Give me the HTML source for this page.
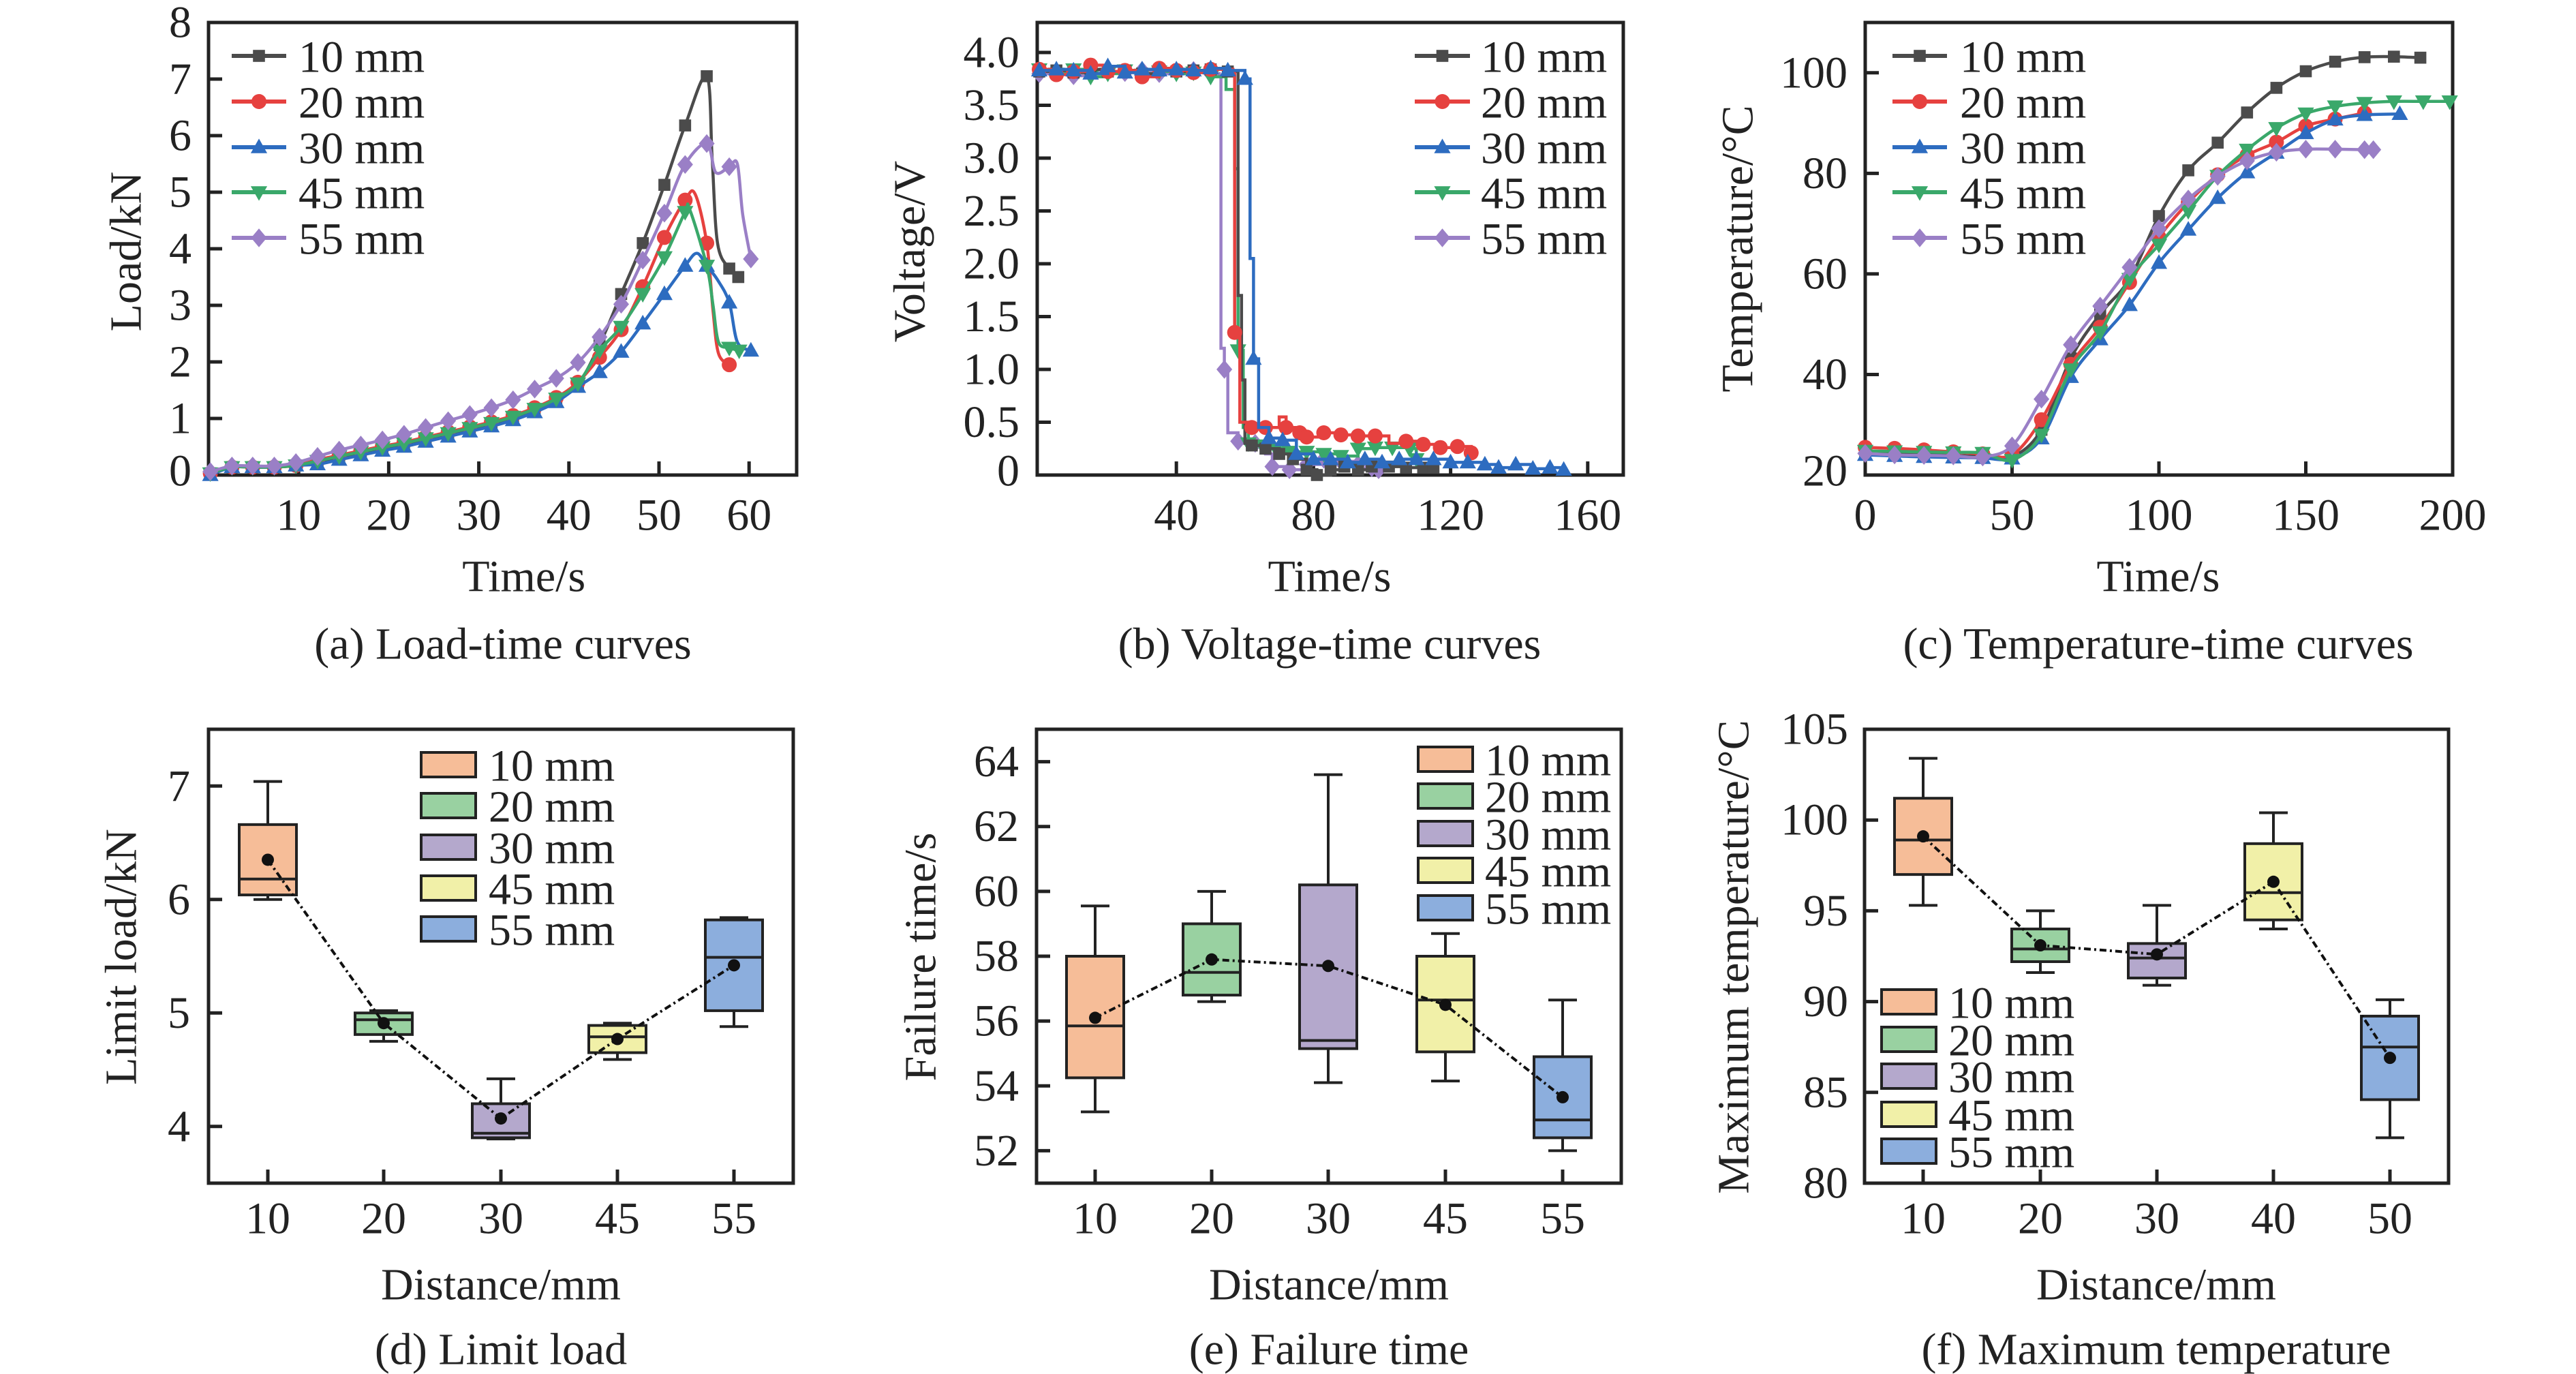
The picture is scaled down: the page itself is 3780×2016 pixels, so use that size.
<!DOCTYPE html>
<html><head><meta charset="utf-8"><style>
html,body{margin:0;padding:0;background:#fff;}
svg{display:block;}
text{font-family:"Liberation Serif","Times New Roman",serif;fill:#222;}
</style></head><body>
<svg id="s" xmlns="http://www.w3.org/2000/svg" width="3780" height="2016" viewBox="0 0 3780 2016"></svg>
<script>
const S=document.getElementById('s');let out='';
const FS=66;
function txt(x,y,t,anchor,size,rot){size=size||FS;anchor=anchor||'middle';
 if(rot) out+=`<text x="${x}" y="${y}" font-size="${size}" text-anchor="middle" dominant-baseline="central" transform="rotate(-90 ${x} ${y})">${t}</text>`;
 else out+=`<text x="${x}" y="${y}" font-size="${size}" text-anchor="${anchor}" dominant-baseline="central">${t}</text>`;}
function frame(l,t,r,b){out+=`<rect x="${l}" y="${t}" width="${r-l}" height="${b-t}" fill="none" stroke="#222" stroke-width="5"/>`;}
function smooth(p){let d=`M${p[0][0]},${p[0][1]}`;for(let i=0;i<p.length-1;i++){const p0=p[Math.max(0,i-1)],p1=p[i],p2=p[i+1],p3=p[Math.min(p.length-1,i+2)];
 const c1x=p1[0]+(p2[0]-p0[0])/6,c1y=p1[1]+(p2[1]-p0[1])/6,c2x=p2[0]-(p3[0]-p1[0])/6,c2y=p2[1]-(p3[1]-p1[1])/6;
 d+=`C${c1x.toFixed(1)},${c1y.toFixed(1)} ${c2x.toFixed(1)},${c2y.toFixed(1)} ${p2[0].toFixed(1)},${p2[1].toFixed(1)}`;}return d;}
function marker(type,x,y,c,s){s=s||12;
 if(type==0) out+=`<rect x="${x-s*0.8}" y="${y-s*0.8}" width="${s*1.6}" height="${s*1.6}" fill="${c}"/>`;
 else if(type==1) out+=`<circle cx="${x}" cy="${y}" r="${s}" fill="${c}"/>`;
 else if(type==2) out+=`<polygon points="${x},${y-s*1.15} ${x+s*1.1},${y+s*0.8} ${x-s*1.1},${y+s*0.8}" fill="${c}"/>`;
 else if(type==3) out+=`<polygon points="${x},${y+s*1.15} ${x+s*1.1},${y-s*0.8} ${x-s*1.1},${y-s*0.8}" fill="${c}"/>`;
 else out+=`<polygon points="${x},${y-s*1.25} ${x+s*1.05},${y} ${x},${y+s*1.25} ${x-s*1.05},${y}" fill="${c}"/>`;}
const COL=['#4b4b4b','#e6413f','#2d6cc0','#3aa86a','#9a7fc6'];
const LAB=['10 mm','20 mm','30 mm','45 mm','55 mm'];
function lineLegend(lx1,lx2,tx,ys){for(let i=0;i<5;i++){out+=`<line x1="${lx1}" y1="${ys[i]}" x2="${lx2}" y2="${ys[i]}" stroke="${COL[i]}" stroke-width="6"/>`;marker(i,(lx1+lx2)/2,ys[i],COL[i],11);txt(tx,ys[i]+2,LAB[i],'start');}}
const LY=[82,149,216,282,349];

// ===== Panel a =====
{const X=t=>306+13.22*t,Y=v=>697-83*v;
frame(306,33,1169,697);
for(let t=10;t<=60;t+=10){out+=`<line x1="${X(t)}" y1="697" x2="${X(t)}" y2="677" stroke="#222" stroke-width="5"/>`;txt(X(t),756,t);}
for(let v=0;v<=8;v++){if(v>0&&v<8)out+=`<line x1="306" y1="${Y(v)}" x2="326" y2="${Y(v)}" stroke="#222" stroke-width="5"/>`;txt(281,Y(v)+ (v==0?-6:0),v,'end');}
txt(185,369,'Load/kN','middle',FS,true);txt(X(35),846,'Time/s');txt(738,945,'(a) Load-time curves');
const T=[0.2,2.6,4.9,7.3,9.7,12.1,14.5,16.9,19.3,21.7,24.1,26.6,29.0,31.4,33.8,36.2,38.6,41.0,43.4,45.8,48.2,50.6,52.9,55.3,57.8,60.2];
const base=[0.03,0.14,0.14,0.14,0.17,0.25,0.33,0.41,0.49,0.56,0.65,0.74,0.83,0.92,1.03,1.17,1.35,1.62];
function mk(off,tail){const p=[];for(let i=0;i<18;i++)p.push([T[i],base[i]+off*(i>4?1:0),1]);return p.concat(tail);}
const S5=[
 mk(-0.02,[[43.4,2.3,1],[45.8,3.2,1],[48.2,4.1,1],[50.6,5.13,1],[52.9,6.18,1],[55.3,7.05,1],[55.9,5.6,0],[56.5,4.1,0],[57.8,3.65,1],[58.8,3.5,1]]),
 mk(0.02,[[43.4,2.08,1],[45.8,2.57,1],[48.2,3.33,1],[50.6,4.2,1],[52.9,4.86,1],[54.0,4.97,0],[55.3,4.1,1],[56.0,2.9,0],[56.6,2.15,0],[57.8,1.95,1]]),
 mk(-0.06,[[43.4,1.82,1],[45.8,2.18,1],[48.2,2.68,1],[50.6,3.2,1],[52.9,3.7,1],[54.2,3.92,0],[55.3,3.7,1],[56.5,3.45,0],[57.8,3.05,1],[58.7,2.35,0],[60.2,2.2,1]]),
 mk(0.0,[[43.4,2.2,1],[45.8,2.62,1],[48.2,3.2,1],[50.6,3.85,1],[52.9,4.65,1],[53.4,4.7,0],[55.3,3.7,1],[56.0,3.0,0],[56.6,2.35,0],[57.8,2.25,1],[58.9,2.2,1]]),
 [[0.2,0.06,1],[2.6,0.16,1],[4.9,0.16,1],[7.3,0.16,1],[9.7,0.22,1],[12.1,0.33,1],[14.5,0.44,1],[16.9,0.53,1],[19.3,0.62,1],[21.7,0.72,1],[24.1,0.84,1],[26.6,0.96,1],[29.0,1.07,1],[31.4,1.19,1],[33.8,1.33,1],[36.2,1.52,1],[38.6,1.71,1],[41.0,1.99,1],[43.4,2.44,1],[45.8,3.02,1],[48.2,3.8,1],[50.6,4.63,1],[52.9,5.49,1],[55.3,5.86,1],[56.3,5.35,0],[57.8,5.45,1],[58.7,5.5,0],[59.3,4.6,0],[60.2,3.82,1]]
];
S5[2][0][1]=0.0;
for(let k=0;k<5;k++){const p=S5[k].map(q=>[X(q[0]),Y(q[1])]);out+=`<path d="${smooth(p)}" fill="none" stroke="${COL[k]}" stroke-width="4.5"/>`;
 S5[k].forEach(q=>{if(q[2])marker(k,X(q[0]),Y(q[1]),COL[k],11);});}
lineLegend(340,420,438,LY);}

// ===== Panel b =====
{const X=t=>1525+5.03*t,Y=v=>697-155*v;
frame(1522,33,2382,697);
[40,80,120,160].forEach(t=>{out+=`<line x1="${X(t)}" y1="697" x2="${X(t)}" y2="677" stroke="#222" stroke-width="5"/>`;txt(X(t),756,t);});
for(let v=0;v<=4;v+=0.5){if(v>0)out+=`<line x1="1522" y1="${Y(v)}" x2="1542" y2="${Y(v)}" stroke="#222" stroke-width="5"/>`;txt(1496,Y(v)+(v==0?-6:0),v==0?'0':v.toFixed(1),'end');}
txt(1335,369,'Voltage/V','middle',FS,true);txt(1951,846,'Time/s');txt(1951,945,'(b) Voltage-time curves');
function flat(jit,end){const p=[];for(let t=0,i=0;t<end;t+=5,i++)p.push([t,3.82+jit[i%jit.length],1]);return p;}
const B=[
 flat([0,0.01,-0.01,0.02,0,0.01,-0.02,0.01,0,0.01,0.02],56).concat([[57.5,3.82,0],[58,1.7,0],[59,0.9,0],[60,0.3,0],[62,0.28,1],[66,0.25,1],[70,0.2,1],[74,0.15,1],[78,0.05,1],[81,0.0,1],[85,0.05,1],[89,0.08,1],[93,0.05,1],[97,0.08,1],[102,0.08,1],[107,0.07,1],[112,0.07,1],[115,0.07,1]]),
 flat([0.02,-0.03,0,0.06,0,0.01,-0.05,0.03,0.01,-0.01,0.02],55).concat([[56.5,3.8,0],[57,1.35,1],[58.5,0.5,0],[62,0.45,1],[66,0.45,1],[70,0.55,0],[72,0.45,1],[76,0.4,1],[78,0.36,1],[83,0.4,1],[88,0.38,1],[93,0.37,1],[98,0.37,1],[102,0.3,0],[107,0.32,1],[112,0.29,1],[117,0.26,1],[122,0.27,1],[126,0.21,1]]),
 flat([0.01,0.02,0.01,-0.02,0.05,-0.01,0.02,0.01,0.02,0.01,0.03],58).concat([[60,3.75,1],[61.5,2.05,0],[62.5,1.1,1],[64,0.45,0],[67,0.35,1],[71,0.33,1],[75,0.2,1],[80,0.15,1],[85,0.15,1],[90,0.12,1],[95,0.15,1],[100,0.12,1],[105,0.15,1],[110,0.15,1],[115,0.15,1],[120,0.12,1],[125,0.12,1],[130,0.1,1],[134,0.07,1],[139,0.1,1],[144,0.06,1],[149,0.07,1],[153,0.05,1]]),
 flat([0.02,-0.02,0.02,-0.05,-0.02,0.01,-0.03,0.0,-0.02,-0.01,-0.05],53).concat([[54.5,3.65,0],[56,3.65,0],[57,2.9,0],[58,1.18,1],[59.5,0.45,0],[61,0.3,1],[65,0.28,1],[69,0.25,1],[73,0.22,1],[78,0.22,1],[83,0.2,1],[88,0.18,1],[93,0.25,1],[98,0.26,1],[103,0.26,1],[108,0.25,1],[110,0.15,1]]),
 flat([-0.02,0,-0.04,0.01,0,-0.01,0.01,-0.02,0,0.01,-0.02],51).concat([[52.5,3.78,0],[53,1.2,0],[54,1.0,1],[55,0.4,0],[57,0.4,0],[58,0.32,1],[63,0.3,1],[66,0.2,0],[68,0.08,1],[73,0.05,1],[78,0.1,1],[83,0.15,1],[88,0.13,1],[93,0.1,1],[97,0.07,1],[99,0.05,1]])
];
const order=[4,3,0,1,2];
order.forEach(k=>{const p=B[k];let d=`M${X(p[0][0])},${Y(p[0][1])}`;for(let i=1;i<p.length;i++)d+=`H${X(p[i][0]).toFixed(1)}V${Y(p[i][1]).toFixed(1)}`;
 out+=`<path d="${d}" fill="none" stroke="${COL[k]}" stroke-width="4.5"/>`;p.forEach(q=>{if(q[2])marker(k,X(q[0]),Y(q[1]),COL[k],11);});});
lineLegend(2076,2157,2173,LY);}

// ===== Panel c =====
{const X=t=>2737+4.31*t,Y=v=>697-7.378*(v-20);
frame(2737,33,3599,697);
[0,50,100,150,200].forEach(t=>{if(t>0&&t<200)out+=`<line x1="${X(t)}" y1="697" x2="${X(t)}" y2="677" stroke="#222" stroke-width="5"/>`;txt(X(t),756,t);});
[20,40,60,80,100].forEach(v=>{if(v>20)out+=`<line x1="2737" y1="${Y(v)}" x2="2757" y2="${Y(v)}" stroke="#222" stroke-width="5"/>`;txt(2711,Y(v)+(v==20?-6:0),v,'end');});
txt(2550,365,'Temperature/°C','middle',FS,true);txt(3167,846,'Time/s');txt(3167,945,'(c) Temperature-time curves');
const C=[
 [24.5,24.3,24.1,23.9,23.7,23.6,29,43.2,52,59,71.5,80.6,86.1,92.1,97,100.3,102.2,103.1,103.2,103.0],
 [25.5,25.3,25.0,24.6,24.2,24.0,31,42,49.4,58.3,67.3,74.2,79.7,83.6,86.2,89.4,90.8,92],
 [24.0,23.8,23.6,23.5,23.4,23.3,27.3,39.5,47,53.8,62.2,68.8,75.1,80.2,84.1,88,90.7,91.6,91.8],
 [24.8,24.7,24.6,24.5,24.4,23.0,28,41,48.4,59,65.8,72.5,79.5,84.7,89,91.9,93.3,94,94.3,94.3,94.3],
 [24.3,24.0,23.9,23.8,23.6,25.8,35.1,45.9,53.6,61.3,69,74.9,79.4,82.5,84.2,84.8,84.8,84.7]
];
for(let k=0;k<5;k++){let pts=C[k].map((v,i)=>[i*10,v]);
 if(k==2)pts[pts.length-1][0]=182;if(k==4)pts.push([173,84.7]);if(k==0)pts[pts.length-1][0]=189;if(k==3)pts[pts.length-1][0]=199;
 let d=smooth(pts.map(q=>[X(q[0]),Y(q[1])]));
 out+=`<path d="${d}" fill="none" stroke="${COL[k]}" stroke-width="4.5"/>`;pts.forEach(q=>marker(k,X(q[0]),Y(q[1]),COL[k],11));}
lineLegend(2777,2857,2876,LY);}

// ===== Box plots =====
const FILL=['#f6bd98','#99d1a1','#b4a8cc','#f1f0a8','#8caedd'];
function boxPanel(o){const {l,r,xs,ymin,ymax,yt,lab,ylabx,ytickr,cap,data,leg,xl,cx}=o;
 const t=1070,b=1736;const Y=v=>b-(v-ymin)/(ymax-ymin)*(b-t);
 frame(l,t,r,b);
 xs.forEach((x,i)=>{out+=`<line x1="${x}" y1="${b}" x2="${x}" y2="${b-20}" stroke="#222" stroke-width="5"/>`;txt(x,1788,xl[i]);});
 yt.forEach(v=>{out+=`<line x1="${l}" y1="${Y(v)}" x2="${l+20}" y2="${Y(v)}" stroke="#222" stroke-width="5"/>`;txt(ytickr,Y(v),v,'end');});
 txt(ylabx,1404,lab,'middle',FS,true);txt(cx,1885,'Distance/mm');txt(cx,1980,cap);
 data.forEach((d,i)=>{const x=xs[i],[w1,q1,md,q3,w2]=d;
  out+=`<line x1="${x}" y1="${Y(w1)}" x2="${x}" y2="${Y(w2)}" stroke="#222" stroke-width="4"/>`;
  out+=`<line x1="${x-21}" y1="${Y(w1)}" x2="${x+21}" y2="${Y(w1)}" stroke="#222" stroke-width="4"/><line x1="${x-21}" y1="${Y(w2)}" x2="${x+21}" y2="${Y(w2)}" stroke="#222" stroke-width="4"/>`;
  out+=`<rect x="${x-42}" y="${Y(q3)}" width="84" height="${Y(q1)-Y(q3)}" fill="${FILL[i]}" stroke="#222" stroke-width="4"/>`;
  out+=`<line x1="${x-42}" y1="${Y(md)}" x2="${x+42}" y2="${Y(md)}" stroke="#222" stroke-width="4"/>`;});
 let pd='';data.forEach((d,i)=>{pd+=(i?'L':'M')+xs[i]+','+Y(d[5]).toFixed(1);});
 out+=`<path d="${pd}" fill="none" stroke="#111" stroke-width="4" stroke-dasharray="10 5 3 5"/>`;
 data.forEach((d,i)=>out+=`<circle cx="${xs[i]}" cy="${Y(d[5])}" r="9" fill="#111"/>`);
 for(let i=0;i<5;i++){const y=leg.ys[i];out+=`<rect x="${leg.x}" y="${y-18}" width="80" height="36" fill="${FILL[i]}" stroke="#222" stroke-width="4"/>`;txt(leg.tx,y+2,LAB[i],'start');}
}
boxPanel({l:306,r:1164,xs:[393,563,735,906,1077],xl:[10,20,30,45,55],ymin:3.5,ymax:7.5,yt:[4,5,6,7],lab:'Limit load/kN',ylabx:178,ytickr:279,cap:'(d) Limit load',cx:735,
 data:[[6.0,6.04,6.18,6.66,7.04,6.35],[4.75,4.81,4.94,5.0,5.02,4.91],[3.89,3.9,3.94,4.2,4.42,4.07],[4.59,4.65,4.79,4.89,4.91,4.77],[4.88,5.02,5.49,5.82,5.84,5.42]],
 leg:{x:618,tx:717,ys:[1122,1182,1243,1303,1363]}});
boxPanel({l:1521,r:2379,xs:[1607,1778,1949,2121,2293],xl:[10,20,30,45,55],ymin:51,ymax:65,yt:[52,54,56,58,60,62,64],lab:'Failure time/s',ylabx:1351,ytickr:1495,cap:'(e) Failure time',cx:1950,
 data:[[53.2,54.25,55.85,58.0,59.55,56.1],[56.6,56.8,57.5,59.0,60.0,57.9],[54.1,55.15,55.4,60.2,63.6,57.7],[54.15,55.05,56.65,58.0,58.7,56.5],[52.0,52.4,52.95,54.9,56.65,53.65]],
 leg:{x:2081,tx:2179,ys:[1114,1168,1223,1277,1332]}});
boxPanel({l:2736,r:3593,xs:[2822,2994,3165,3336,3507],xl:[10,20,30,40,50],ymin:80,ymax:105,yt:[80,85,90,95,100,105],lab:'Maximum temperature/°C',ylabx:2544,ytickr:2712,cap:'(f) Maximum temperature',cx:3164,
 data:[[95.3,97.0,98.9,101.2,103.4,99.1],[91.6,92.2,92.9,94.0,95.0,93.1],[90.9,91.3,92.4,93.2,95.3,92.6],[94.0,94.5,96.0,98.7,100.4,96.6],[82.5,84.6,87.5,89.2,90.1,86.9]],
 leg:{x:2761,tx:2859,ys:[1470,1525,1579,1635,1689]}});
S.innerHTML=out;
</script>
</body></html>
